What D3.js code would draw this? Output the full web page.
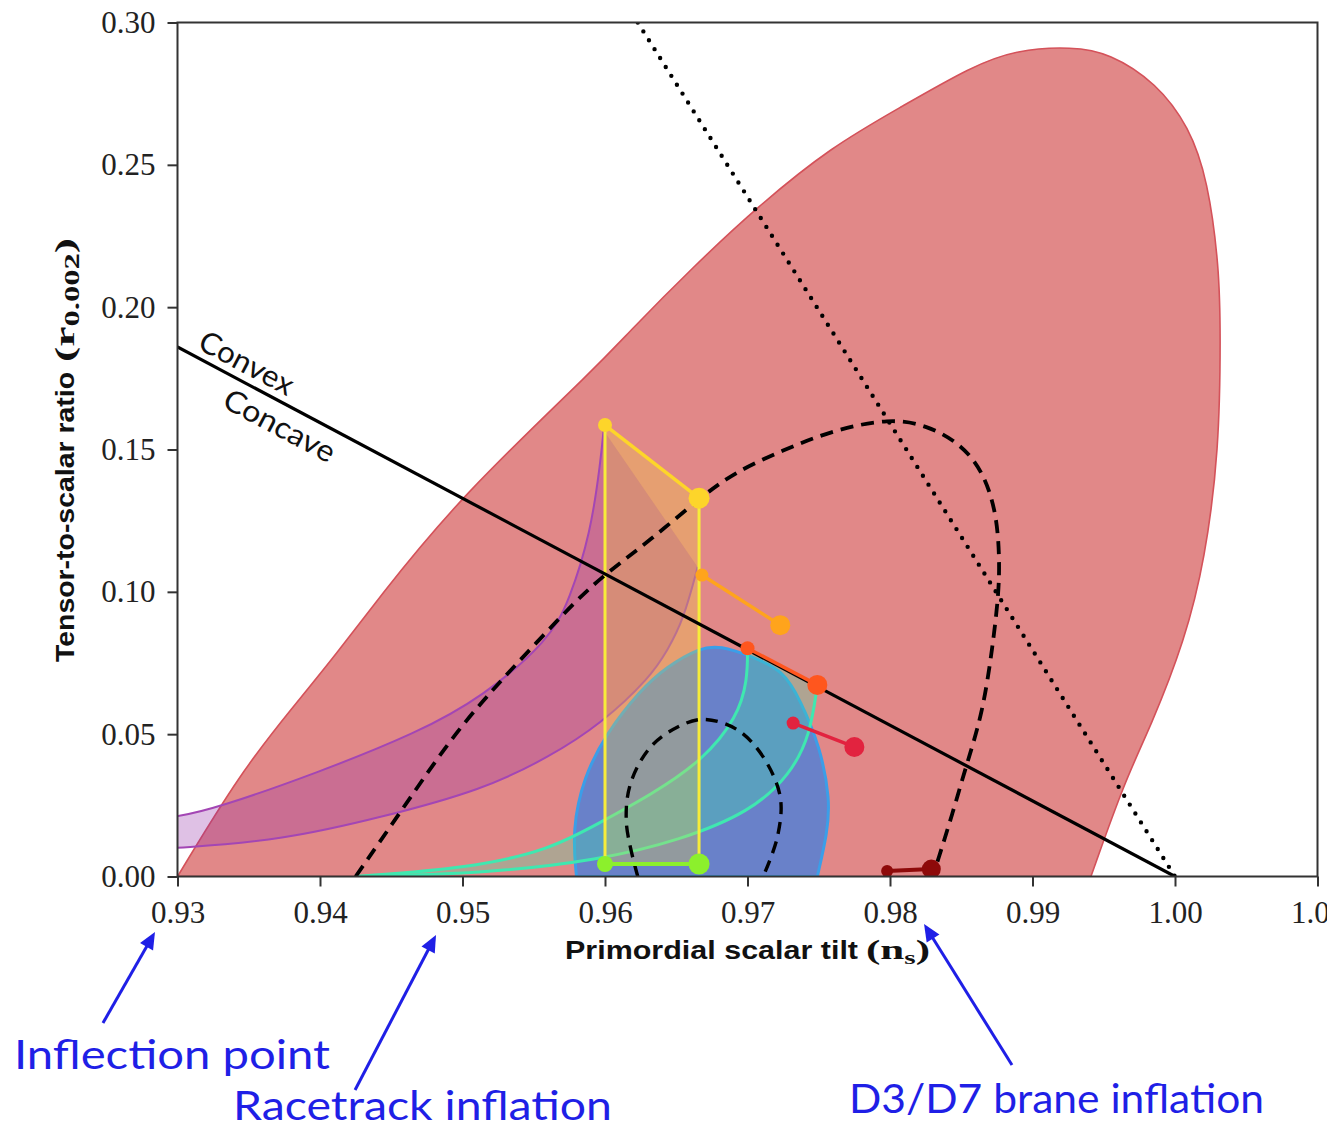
<!DOCTYPE html>
<html>
<head>
<meta charset="utf-8">
<script src="https://cdn.jsdelivr.net/npm/d3@7"></script>
<style>
  html, body { margin: 0; padding: 0; background: #fff; }
  svg { display: block; }
</style>
</head>
<body>
<svg id="chart" width="1327" height="1129"></svg>
<script>
// ---- axis ticks ----
const nsTicks = [0.93, 0.94, 0.95, 0.96, 0.97, 0.98, 0.99, 1.00, 1.01];
const rTicks = [0.00, 0.05, 0.10, 0.15, 0.20, 0.25, 0.30];

// ---- outer (red) likelihood contour, arc from r = 0 on the left to r = 0 on the right ----
const outerContour = [
  [0.9300, 0.0000], [0.9344, 0.0364], [0.9381, 0.0595], [0.9412, 0.0785], [0.9440, 0.0971],
  [0.9498, 0.1333], [0.9597, 0.1804], [0.9616, 0.1909], [0.9662, 0.2142], [0.9707, 0.2353],
  [0.9759, 0.2564], [0.9808, 0.2704], [0.9857, 0.2845], [0.9889, 0.2905], [0.9928, 0.2915],
  [0.9954, 0.2893], [0.9987, 0.2788], [1.0010, 0.2633], [1.0023, 0.2447], [1.0031, 0.2141],
  [1.0032, 0.1909], [1.0031, 0.1498], [1.0021, 0.1112], [1.0007, 0.0831], [0.9983, 0.0526],
  [0.9965, 0.0339], [0.9941, 0.0000]
];

// ---- inner (blue) constraint region ----
const innerContour = [
  [0.9580, 0.0000], [0.9577, 0.0163], [0.9585, 0.0349], [0.9601, 0.0504], [0.9625, 0.0655],
  [0.9643, 0.0736], [0.9667, 0.0805], [0.9681, 0.0810], [0.9702, 0.0775], [0.9725, 0.0725],
  [0.9737, 0.0620], [0.9751, 0.0456], [0.9758, 0.0269], [0.9756, 0.0153], [0.9749, 0.0000]
];

// ---- inflection point band (purple) ----
const inflectionUpper = [
  [0.9280, 0.0203], [0.9300, 0.0209], [0.9328, 0.0241], [0.9398, 0.0364], [0.9468, 0.0504],
  [0.9514, 0.0630], [0.9561, 0.0831], [0.9575, 0.0971], [0.9590, 0.1207], [0.9597, 0.1463],
  [0.9599, 0.1568]
];
const inflectionLower = [
  [0.9280, 0.0096], [0.9300, 0.0100], [0.9374, 0.0128], [0.9444, 0.0209], [0.9514, 0.0304],
  [0.9561, 0.0420], [0.9597, 0.0535], [0.9632, 0.0701], [0.9644, 0.0796], [0.9655, 0.0901],
  [0.9665, 0.1087]
];

// ---- racetrack band (teal) ----
const racetrackUpper = [
  [0.9425, 0.0000], [0.9505, 0.0030], [0.9561, 0.0093], [0.9597, 0.0191], [0.9632, 0.0286],
  [0.9669, 0.0409], [0.9693, 0.0560], [0.9700, 0.0690], [0.9700, 0.0802]
];
const racetrackLower = [
  [0.9425, 0.0000], [0.9512, 0.0009], [0.9597, 0.0058], [0.9653, 0.0128], [0.9702, 0.0227],
  [0.9730, 0.0357], [0.9744, 0.0497], [0.9749, 0.0673]
];

// ---- yellow box and its end points ----
const yellowBox = [[0.9600, 0.0044], [0.9600, 0.1586], [0.9666, 0.1329], [0.9666, 0.0044]];
const yellowTop = [[0.9600, 0.1586], [0.9666, 0.1329]];
const greenBase = [[0.9600, 0.0044], [0.9666, 0.0044]];

// ---- model segments (small point = start, large point = end) ----
const orangeSeg = [[0.9668, 0.1059], [0.9723, 0.0883]];
const redOrangeSeg = [[0.9700, 0.0802], [0.9749, 0.0673]];
const crimsonSeg = [[0.9732, 0.0539], [0.9775, 0.0455]];
const d3d7Seg = [[0.9798, 0.0019], [0.9829, 0.0026]];

// ---- dashed contours ----
const dashedOuter = [
  [0.9425, 0.0000], [0.9456, 0.0223], [0.9491, 0.0479], [0.9519, 0.0645], [0.9549, 0.0806],
  [0.9580, 0.0971], [0.9601, 0.1066], [0.9632, 0.1182], [0.9665, 0.1323], [0.9690, 0.1418],
  [0.9725, 0.1498], [0.9760, 0.1568], [0.9800, 0.1610], [0.9826, 0.1585], [0.9849, 0.1522],
  [0.9865, 0.1427], [0.9875, 0.1277], [0.9877, 0.1101], [0.9876, 0.0981], [0.9872, 0.0806],
  [0.9865, 0.0574], [0.9854, 0.0398], [0.9844, 0.0223], [0.9833, 0.0047], [0.9830, 0.0000]
];
const dashedInner = [
  [0.9623, 0.0000], [0.9615, 0.0188], [0.9618, 0.0328], [0.9632, 0.0455], [0.9651, 0.0525],
  [0.9669, 0.0552], [0.9693, 0.0515], [0.9711, 0.0420], [0.9723, 0.0279], [0.9721, 0.0139],
  [0.9711, 0.0000]
];

// ---- straight reference lines ----
const dottedLine = [[0.9623, 0.30], [1.000, 0.000]];
const convexConcaveLine = [[0.930, 0.186], [1.000, 0.000]];

// ---- annotations below the axis ----
const annotations = [
  { text: "Inflection point", tipNs: 0.92842, tipY: 932, tailNs: 0.92477, tailY: 1023, textX: 14, textY: 1069, len: 316 },
  { text: "Racetrack inflation", tipNs: 0.94814, tipY: 935, tailNs: 0.94246, tailY: 1090, textX: 233, textY: 1120, len: 379 },
  { text: "D3/D7 brane inflation", tipNs: 0.98239, tipY: 924, tailNs: 0.98856, tailY: 1065, textX: 849, textY: 1113, len: 415 }
];

// ---------------------------------------------------------------
const svg = d3.select("#chart");
const x = d3.scaleLinear().domain([0.93, 1.01]).range([177.5, 1317.5]);
const y = d3.scaleLinear().domain([0, 0.30]).range([876.5, 22.5]);

svg.append("defs").append("clipPath").attr("id", "plot-clip")
  .append("rect")
  .attr("x", x(0.93)).attr("y", y(0.30))
  .attr("width", x(1.01) - x(0.93)).attr("height", y(0) - y(0.30));

const plot = svg.append("g").attr("clip-path", "url(#plot-clip)");

const smooth = d3.line().x(d => x(d[0])).y(d => y(d[1])).curve(d3.curveBasis);
const fine = d3.line().x(d => x(d[0])).y(d => y(d[1])).curve(d3.curveCatmullRom.alpha(0.5));
const straight = d3.line().x(d => x(d[0])).y(d => y(d[1]));

// band between two curves: first curve forward, second backward
function bandPath(a, b) {
  const p1 = smooth(a);
  const p2 = smooth(b.slice().reverse()).replace(/^M/, "L");
  return p1 + p2 + "Z";
}

// outer region
plot.append("path")
  .attr("d", smooth(outerContour) + "Z")
  .attr("fill", "#e18888")
  .attr("stroke", "#d4525a")
  .attr("stroke-width", 1.6);

// inner blue region
plot.append("path")
  .attr("d", smooth(innerContour) + "Z")
  .attr("fill", "rgba(30,125,240,0.62)")
  .attr("stroke", "#3b9ee8")
  .attr("stroke-width", 3);

// purple band
plot.append("path")
  .attr("d", bandPath(inflectionUpper, inflectionLower))
  .attr("fill", "rgba(150,50,170,0.3)")
  .attr("stroke", "none");
[inflectionUpper, inflectionLower].forEach(c => {
  plot.append("path").attr("d", smooth(c))
    .attr("fill", "none").attr("stroke", "#a346b4").attr("stroke-width", 2);
});

// teal band
plot.append("path")
  .attr("d", bandPath(racetrackUpper, racetrackLower))
  .attr("fill", "rgba(60,228,170,0.3)")
  .attr("stroke", "none");
[racetrackUpper, racetrackLower].forEach(c => {
  plot.append("path").attr("d", smooth(c))
    .attr("fill", "none").attr("stroke", "#3fe8b0").attr("stroke-width", 3);
});

// yellow box
plot.append("path")
  .attr("d", straight(yellowBox) + "Z")
  .attr("fill", "rgba(242,212,60,0.3)")
  .attr("stroke", "none");
[[yellowBox[0], yellowBox[1]], [yellowBox[3], yellowBox[2]]].forEach(seg => {
  plot.append("path").attr("d", straight(seg))
    .attr("fill", "none").attr("stroke", "#f7ec3a").attr("stroke-width", 3);
});

// dashed contours
plot.append("path").attr("d", smooth(dashedOuter))
  .attr("fill", "none").attr("stroke", "#000").attr("stroke-width", 3.8)
  .attr("stroke-dasharray", "13,8");
plot.append("path").attr("d", fine(dashedInner))
  .attr("fill", "none").attr("stroke", "#000").attr("stroke-width", 3.4)
  .attr("stroke-dasharray", "12,8");

// dotted line
plot.append("path").attr("d", straight(dottedLine))
  .attr("fill", "none").attr("stroke", "#000").attr("stroke-width", 4.4)
  .attr("stroke-linecap", "round").attr("stroke-dasharray", "0,10.5");

// convex / concave boundary
plot.append("path").attr("d", straight(convexConcaveLine))
  .attr("fill", "none").attr("stroke", "#000").attr("stroke-width", 3.2);

// model segments with end points
function segment(data, color, rSmall, rLarge, width) {
  plot.append("path").attr("d", straight(data))
    .attr("fill", "none").attr("stroke", color).attr("stroke-width", width);
  plot.append("circle").attr("cx", x(data[0][0])).attr("cy", y(data[0][1]))
    .attr("r", rSmall).attr("fill", color);
  plot.append("circle").attr("cx", x(data[1][0])).attr("cy", y(data[1][1]))
    .attr("r", rLarge).attr("fill", color);
}
segment(yellowTop, "#fdd52a", 7, 10.5, 3.5);
segment(greenBase, "#8cf02c", 8, 10.5, 4);
segment(orangeSeg, "#ffa41c", 6.5, 10, 3.5);
segment(redOrangeSeg, "#ff561e", 7, 10, 3.5);
segment(crimsonSeg, "#e2233f", 6.5, 10, 3.5);
segment(d3d7Seg, "#8e0a0a", 6, 9.5, 4);

// Convex / Concave labels along the boundary
{
  const p0 = [x(convexConcaveLine[0][0]), y(convexConcaveLine[0][1])];
  const p1 = [x(convexConcaveLine[1][0]), y(convexConcaveLine[1][1])];
  const ang = Math.atan2(p1[1] - p0[1], p1[0] - p0[0]) * 180 / Math.PI;
  const g = svg.append("g").attr("transform", `translate(${p0[0]},${p0[1]}) rotate(${ang})`);
  g.append("text").attr("x", 17).attr("y", -8).text("Convex")
    .attr("font-family", "Lato, 'Open Sans', sans-serif").attr("font-size", 30)
    .attr("textLength", 103).attr("lengthAdjust", "spacingAndGlyphs").attr("fill", "#111");
  g.append("text").attr("x", 66).attr("y", 32).text("Concave")
    .attr("font-family", "Lato, 'Open Sans', sans-serif").attr("font-size", 30)
    .attr("textLength", 122).attr("lengthAdjust", "spacingAndGlyphs").attr("fill", "#111");
}

// frame
svg.append("rect")
  .attr("x", x(0.93)).attr("y", y(0.30))
  .attr("width", x(1.01) - x(0.93)).attr("height", y(0) - y(0.30))
  .attr("fill", "none").attr("stroke", "#333").attr("stroke-width", 2);

// axes
const fmt = d3.format(".2f");
const xAxis = svg.append("g").attr("transform", `translate(0,${y(0)})`)
  .call(d3.axisBottom(x).tickValues(nsTicks).tickFormat(fmt).tickSize(10).tickPadding(14));
const yAxis = svg.append("g").attr("transform", `translate(${x(0.93)},0)`)
  .call(d3.axisLeft(y).tickValues(rTicks).tickFormat(fmt).tickSize(10).tickPadding(12));
[xAxis, yAxis].forEach(ax => {
  ax.select(".domain").remove();
  ax.selectAll(".tick line").attr("stroke", "#333").attr("stroke-width", 2);
  ax.selectAll(".tick text")
    .attr("font-family", "'Liberation Serif', 'DejaVu Serif', serif")
    .attr("font-size", 31).attr("fill", "#222");
});

// axis titles
const sansBold = "'Liberation Sans', Arial, sans-serif";
const serifBold = "'Liberation Serif', 'DejaVu Serif', serif";

svg.append("text").attr("x", 565).attr("y", 959)
  .attr("font-family", sansBold).attr("font-weight", "bold").attr("font-size", 25)
  .attr("textLength", 293).attr("lengthAdjust", "spacingAndGlyphs").attr("fill", "#111")
  .text("Primordial scalar tilt");
{
  const t = svg.append("text").attr("x", 866).attr("y", 959)
    .attr("font-family", serifBold).attr("font-weight", "bold").attr("font-size", 28)
    .attr("fill", "#111").attr("textLength", 64).attr("lengthAdjust", "spacingAndGlyphs");
  t.append("tspan").text("(n");
  t.append("tspan").attr("font-size", 19).attr("dy", 5).text("s");
  t.append("tspan").attr("dy", -5).text(")");
}

{
  const g = svg.append("g").attr("transform", "translate(74,662) rotate(-90)");
  g.append("text").attr("x", 0).attr("y", 0)
    .attr("font-family", sansBold).attr("font-weight", "bold").attr("font-size", 25)
    .attr("textLength", 290).attr("lengthAdjust", "spacingAndGlyphs").attr("fill", "#111")
    .text("Tensor-to-scalar ratio");
  const t = g.append("text").attr("x", 300).attr("y", 0)
    .attr("font-family", serifBold).attr("font-weight", "bold").attr("font-size", 28)
    .attr("fill", "#111").attr("textLength", 124).attr("lengthAdjust", "spacingAndGlyphs");
  t.append("tspan").text("(r");
  t.append("tspan").attr("font-size", 20).attr("dy", 5).text("0.002");
  t.append("tspan").attr("dy", -5).text(")");
}

// annotations with arrows
const blue = "#1f1fe6";
annotations.forEach(a => {
  const tip = [x(a.tipNs), a.tipY];
  const tail = [x(a.tailNs), a.tailY];
  const dx = tip[0] - tail[0], dy = tip[1] - tail[1];
  const L = Math.hypot(dx, dy);
  const ux = dx / L, uy = dy / L;
  const headLen = 17, headHalf = 7.5;
  const base = [tip[0] - ux * headLen, tip[1] - uy * headLen];
  svg.append("line")
    .attr("x1", tail[0]).attr("y1", tail[1])
    .attr("x2", base[0] + ux * 2).attr("y2", base[1] + uy * 2)
    .attr("stroke", blue).attr("stroke-width", 3);
  svg.append("path")
    .attr("d", `M${tip[0]},${tip[1]} L${base[0] - uy * headHalf},${base[1] + ux * headHalf} L${base[0] + uy * headHalf},${base[1] - ux * headHalf} Z`)
    .attr("fill", blue);
  svg.append("text").attr("x", a.textX).attr("y", a.textY)
    .attr("font-family", "Lato, 'Open Sans', sans-serif").attr("font-size", 40)
    .attr("textLength", a.len).attr("lengthAdjust", "spacingAndGlyphs")
    .attr("fill", blue).text(a.text);
});
</script>
</body>
</html>
